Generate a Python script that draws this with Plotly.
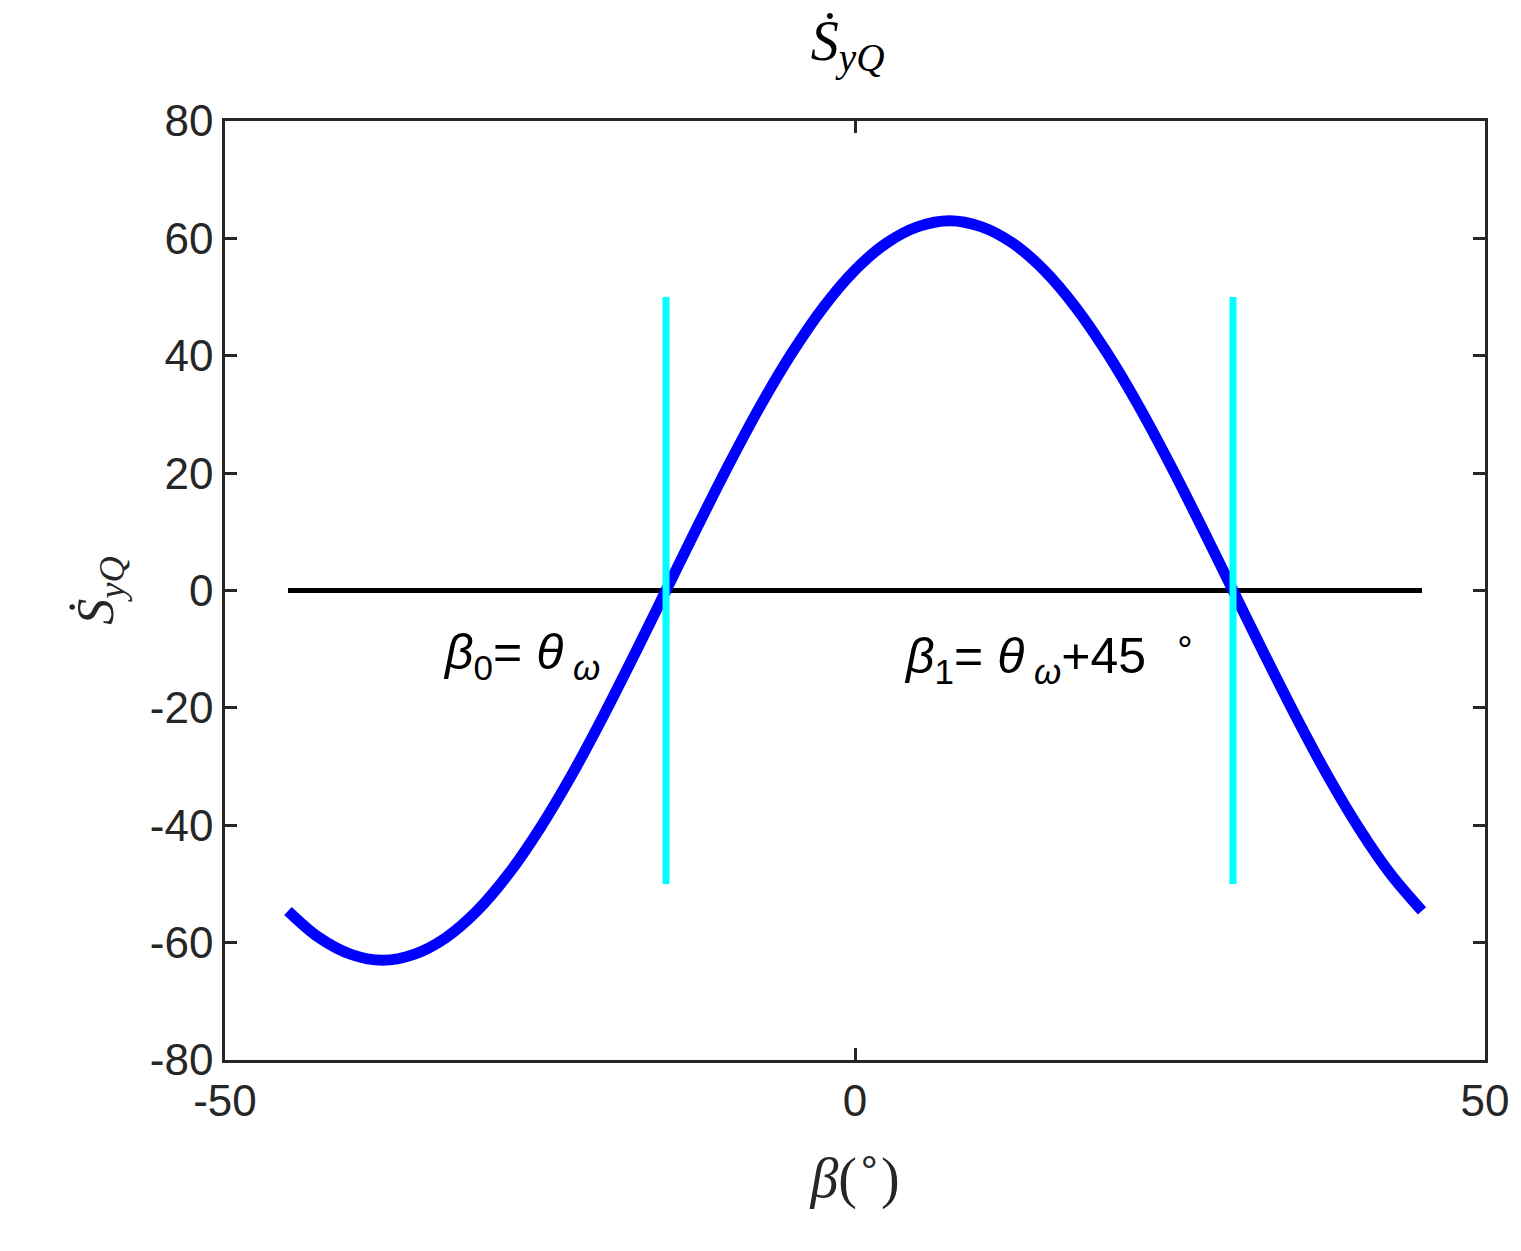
import plotly.graph_objects as go

beta = [-45,-42.5,-40,-37.5,-35,-32.5,-30,-27.5,-25,-22.5,-20,-17.5,-15,-12.5,-10,-7.5,-5,-2.5,0,2.5,5,7.5,10,12.5,15,17.5,20,22.5,25,27.5,30,32.5,35,37.5,40,42.5,45]
s_dot = [-54.6,-59.2,-62.0,-63.0,-62.0,-59.2,-54.6,-48.3,-40.5,-31.5,-21.5,-10.9,0,10.9,21.5,31.5,40.5,48.3,54.6,59.2,62.0,63.0,62.0,59.2,54.6,48.3,40.5,31.5,21.5,10.9,0,-10.9,-21.5,-31.5,-40.5,-48.3,-54.6]
zero_x = [-45, 45]
zero_y = [0, 0]
beta0 = -15
beta1 = 30
vline_y = [-50, 50]
xticks = [-50, 0, 50]
yticks = list(range(-80, 81, 20))

fig = go.Figure()
fig.add_trace(go.Scatter(x=zero_x, y=zero_y, mode="lines", line=dict(color="black", width=5)))
fig.add_trace(go.Scatter(x=beta, y=s_dot, mode="lines", line=dict(color="#0000ff", width=11, shape="spline")))
for b in (beta0, beta1):
    fig.add_trace(go.Scatter(x=[b, b], y=vline_y, mode="lines", line=dict(color="cyan", width=7)))

font = dict(family="Liberation Sans, Arial", size=44, color="#262626")
ax = dict(showgrid=False, zeroline=False, ticks="inside", ticklen=12, tickwidth=2.5, tickcolor="#262626",
          showline=True, linewidth=2.5, linecolor="#262626", mirror="ticks", tickfont=font)
fig.update_layout(
    width=1521, height=1251, plot_bgcolor="white", paper_bgcolor="white", showlegend=False,
    margin=dict(l=217, r=44, t=113, b=199),
    xaxis=dict(range=[-50, 50], tickvals=xticks, ticktext=[str(v) for v in xticks], **ax),
    yaxis=dict(range=[-80, 80], tickvals=yticks, ticktext=[str(v) for v in yticks], **ax),
    title=dict(text="<i>Ṡ<sub>yQ</sub></i>", x=0.552, xanchor="center", y=0.99, yanchor="top",
               font=dict(family="Liberation Serif", size=56, color="black")),
)
fig.update_xaxes(title=dict(text="<i>β</i>(<sup>∘</sup>)", font=dict(family="Liberation Serif", size=56, color="#262626"), standoff=35))
fig.update_yaxes(title=dict(text="<i>Ṡ<sub>yQ</sub></i>", font=dict(family="Liberation Serif", size=52, color="#262626"), standoff=20))
fig.add_annotation(x=-26.5, y=-11, text="<i>β</i><sub>0</sub>= <i>θ</i><sub> <i>ω</i></sub>", showarrow=False,
                   font=dict(family="Liberation Sans", size=50, color="black"))
fig.add_annotation(x=15.5, y=-11, text="<i>β</i><sub>1</sub>= <i>θ</i><sub> <i>ω</i></sub>+45  <sup>∘</sup>", showarrow=False,
                   font=dict(family="Liberation Sans", size=50, color="black"))
fig.write_html("out.html")
